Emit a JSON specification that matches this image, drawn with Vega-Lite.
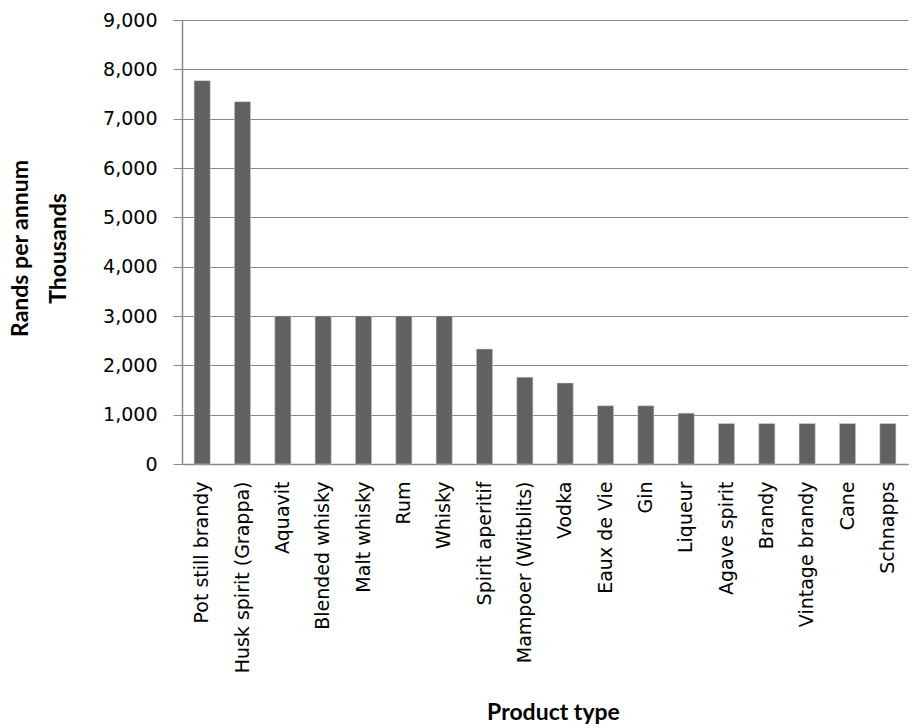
{
  "$schema": "https://vega.github.io/schema/vega-lite/v6.json",
  "width": 726,
  "height": 444,
  "autosize": {"type": "none"},
  "padding": {"left": 182, "top": 20, "right": 8, "bottom": 264},
  "background": "white",
  "data": {
    "values": [
      {"product": "Pot still brandy", "value": 7770},
      {"product": "Husk spirit (Grappa)", "value": 7345},
      {"product": "Aquavit", "value": 3000},
      {"product": "Blended whisky", "value": 3000},
      {"product": "Malt whisky", "value": 3000},
      {"product": "Rum", "value": 3000},
      {"product": "Whisky", "value": 3000},
      {"product": "Spirit aperitif", "value": 2330},
      {"product": "Mampoer (Witblits)", "value": 1760},
      {"product": "Vodka", "value": 1640},
      {"product": "Eaux de Vie", "value": 1180},
      {"product": "Gin", "value": 1180},
      {"product": "Liqueur", "value": 1030},
      {"product": "Agave spirit", "value": 820},
      {"product": "Brandy", "value": 820},
      {"product": "Vintage brandy", "value": 820},
      {"product": "Cane", "value": 820},
      {"product": "Schnapps", "value": 820}
    ]
  },
  "config": {
    "view": {"stroke": null},
    "axis": {
      "labelFont": "DejaVu Sans",
      "labelFontSize": 19,
      "labelColor": "#000000",
      "labelLimit": 400,
      "titleFont": "Lato",
      "titleFontSize": 23,
      "titleFontWeight": "bold",
      "titleColor": "#000000",
      "domainColor": "#888888",
      "tickColor": "#888888",
      "gridColor": "#888888",
      "gridOpacity": 1
    }
  },
  "mark": {"type": "bar", "color": "#616161", "stroke": "#d0d0d0", "strokeWidth": 0.5},
  "encoding": {
    "x": {
      "field": "product",
      "type": "nominal",
      "sort": null,
      "scale": {"paddingInner": 0.6, "paddingOuter": 0.3},
      "axis": {
        "title": "Product type",
        "labelAngle": -90,
        "labelAlign": "right",
        "labelBaseline": "middle",
        "labelPadding": 17,
        "ticks": false,
        "domainWidth": 1.5,
        "titleX": 371,
        "titleY": 248,
        "titleAnchor": null,
        "titleAlign": "center",
        "titleBaseline": "middle"
      }
    },
    "y": {
      "field": "value",
      "type": "quantitative",
      "scale": {"domain": [0, 9000], "nice": false},
      "axis": {
        "title": ["Rands per annum", "Thousands"],
        "titleLineHeight": 38,
        "titleAngle": -90,
        "titleAlign": "center",
        "titleBaseline": "middle",
        "titleX": -162,
        "titleY": 228,
        "values": [0, 1000, 2000, 3000, 4000, 5000, 6000, 7000, 8000, 9000],
        "format": ",d",
        "tickSize": 9,
        "labelPadding": 16,
        "domainWidth": 1.5,
        "gridWidth": 1.2
      }
    }
  }
}
